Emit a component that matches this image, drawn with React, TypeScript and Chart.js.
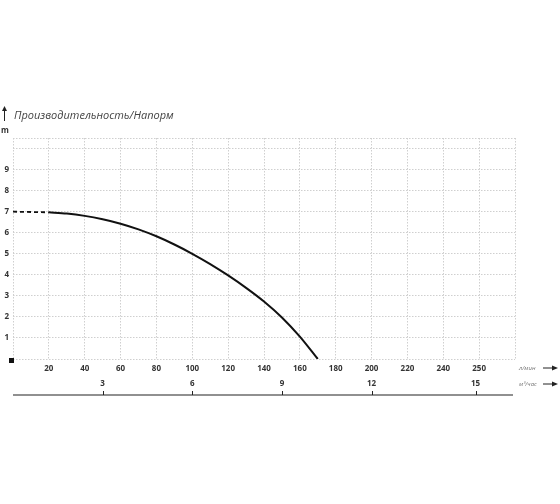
import { useEffect, useRef } from "react";
import { Chart, registerables, type Plugin } from "chart.js";

Chart.register(...registerables);

// flow, l/min -> head, m
const flowDashed = [0, 20];
const headDashed = [7.0, 6.97];
const flow = [20, 30, 40, 50, 60, 70, 80, 90, 100, 110, 120, 130, 140, 150, 160, 170];
const head = [6.97, 6.91, 6.8, 6.64, 6.43, 6.16, 5.83, 5.44, 5.0, 4.51, 3.97, 3.38, 2.73, 1.97, 1.06, 0];

// tick labels of the l/min axis (the last one sits at the 260 grid line)
const xTickValues = [20, 40, 60, 80, 100, 120, 140, 160, 180, 200, 220, 240, 260];
const xTickLabels = ["20", "40", "60", "80", "100", "120", "140", "160", "180", "200", "220", "240", "250"];

// m³/h axis, placed on the l/min scale
const m3TickValues = [50, 100, 150, 200, 258];
const m3TickLabels = ["3", "6", "9", "12", "15"];

const yTickLabels = ["", "1", "2", "3", "4", "5", "6", "7", "8", "9", ""];

const FONT = "'Open Sans', 'DejaVu Sans', sans-serif";
const TEXT = "#333";

const decorations: Plugin<"line"> = {
  id: "decorations",
  afterDraw(chart) {
    const { ctx } = chart;
    const y = chart.scales.y;
    const x2 = chart.scales.x2;
    ctx.save();

    // title with up arrow
    ctx.strokeStyle = "#222";
    ctx.fillStyle = "#222";
    ctx.lineWidth = 1;
    ctx.beginPath();
    ctx.moveTo(4.5, 121);
    ctx.lineTo(4.5, 110);
    ctx.stroke();
    ctx.beginPath();
    ctx.moveTo(4.5, 106);
    ctx.lineTo(2, 111);
    ctx.lineTo(7, 111);
    ctx.closePath();
    ctx.fill();

    ctx.fillStyle = "#444";
    ctx.font = `italic 11px ${FONT}`;
    ctx.textBaseline = "middle";
    ctx.textAlign = "left";
    ctx.fillText("Производительность/Напорм", 14, 116);

    ctx.fillStyle = TEXT;
    ctx.font = `bold 8px ${FONT}`;
    ctx.fillText("m", 1, 131);

    // marker at the origin
    const y0 = y.getPixelForValue(0);
    ctx.fillStyle = "#111";
    ctx.fillRect(9, y0 - 1, 5, 5);

    // m³/h axis line and ticks
    const lineY = x2.bottom - 2;
    ctx.strokeStyle = "#222";
    ctx.lineWidth = 1.2;
    ctx.beginPath();
    ctx.moveTo(chart.chartArea.left, lineY);
    ctx.lineTo(513, lineY);
    ctx.stroke();
    ctx.lineWidth = 1;
    m3TickValues.forEach((v) => {
      const px = Math.round(x2.getPixelForValue(v)) + 0.5;
      ctx.beginPath();
      ctx.moveTo(px, lineY);
      ctx.lineTo(px, lineY - 4);
      ctx.stroke();
    });

    // unit labels with arrows
    const units = [
      { text: "л/мин", y: chart.scales.x.top + 9 },
      { text: "м³/час", y: x2.top + 8 },
    ];
    units.forEach((u) => {
      ctx.fillStyle = "#777";
      ctx.font = `italic 6px ${FONT}`;
      ctx.textAlign = "left";
      ctx.fillText(u.text, 519, u.y);
      ctx.strokeStyle = "#222";
      ctx.fillStyle = "#222";
      ctx.beginPath();
      ctx.moveTo(543, u.y);
      ctx.lineTo(553, u.y);
      ctx.stroke();
      ctx.beginPath();
      ctx.moveTo(558, u.y);
      ctx.lineTo(552, u.y - 2.5);
      ctx.lineTo(552, u.y + 2.5);
      ctx.closePath();
      ctx.fill();
    });

    ctx.restore();
  },
};

export default function App() {
  const canvasRef = useRef<HTMLCanvasElement>(null);
  const chartRef = useRef<Chart<"line"> | null>(null);

  useEffect(() => {
    if (!canvasRef.current) return;

    chartRef.current = new Chart(canvasRef.current, {
      type: "line",
      data: {
        datasets: [
          {
            label: "dashed",
            data: flowDashed.map((f, i) => ({ x: f, y: headDashed[i] })),
            borderColor: "#111",
            borderWidth: 1.8,
            borderDash: [4, 3],
            pointRadius: 0,
            tension: 0,
          },
          {
            label: "Напор",
            data: flow.map((f, i) => ({ x: f, y: head[i] })),
            borderColor: "#111",
            borderWidth: 2,
            pointRadius: 0,
            tension: 0.3,
          },
        ],
      },
      options: {
        animation: false,
        responsive: true,
        maintainAspectRatio: false,
        layout: { padding: { top: 138, right: 45, bottom: 107, left: 0 } },
        plugins: {
          legend: { display: false },
          tooltip: { enabled: false },
          title: { display: false },
        },
        scales: {
          x: {
            type: "linear",
            min: 0,
            max: 280,
            border: { display: false, dash: [1.5, 1.5] },
            grid: { color: "#cfcfcf", drawTicks: false, lineWidth: 1 },
            ticks: {
              stepSize: 20,
              padding: 5,
              autoSkip: false,
              maxRotation: 0,
              color: TEXT,
              font: { family: FONT, size: 8, weight: "bold" },
              callback: (v) => {
                const i = xTickValues.indexOf(Number(v));
                return i >= 0 ? xTickLabels[i] : "";
              },
            },
            afterFit: (s) => {
              s.height = 17;
            },
          },
          x2: {
            type: "linear",
            position: "bottom",
            min: 0,
            max: 280,
            border: { display: false },
            grid: { display: false, drawTicks: false },
            afterBuildTicks: (s) => {
              s.ticks = m3TickValues.map((v) => ({ value: v }));
            },
            ticks: {
              padding: 3,
              autoSkip: false,
              maxRotation: 0,
              color: TEXT,
              font: { family: FONT, size: 8, weight: "bold" },
              callback: (v) => {
                const i = m3TickValues.indexOf(Number(v));
                return i >= 0 ? m3TickLabels[i] : "";
              },
            },
            afterFit: (s) => {
              s.height = 21;
            },
          },
          y: {
            type: "linear",
            min: 0,
            max: 10.5,
            border: { display: false, dash: [1.5, 1.5] },
            grid: { color: "#cfcfcf", drawTicks: false, lineWidth: 1 },
            ticks: {
              stepSize: 1,
              padding: 4,
              autoSkip: false,
              color: TEXT,
              font: { family: FONT, size: 8, weight: "bold" },
              callback: (v) => {
                const n = Number(v);
                return Number.isInteger(n) ? yTickLabels[n] ?? "" : "";
              },
            },
            afterFit: (s) => {
              s.width = 13;
            },
          },
        },
      },
      plugins: [decorations],
    });

    return () => {
      chartRef.current?.destroy();
    };
  }, []);

  return (
    <div style={{ position: "fixed", left: 0, top: 0, width: 560, height: 504, background: "#fff" }}>
      <canvas ref={canvasRef} role="img" aria-label="Производительность/Напор" />
    </div>
  );
}
